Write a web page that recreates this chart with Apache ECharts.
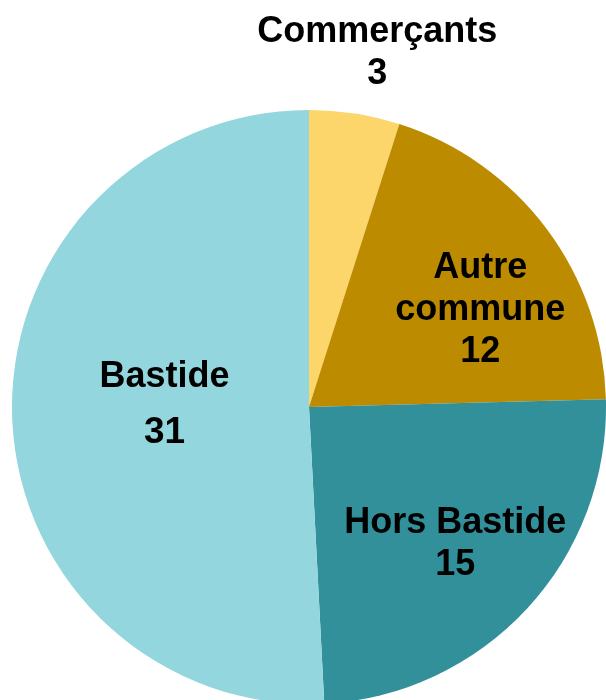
<!DOCTYPE html>
<head>
    <meta charset="utf-8">
    <script src="https://cdn.jsdelivr.net/npm/echarts@6/dist/echarts.min.js"></script>
    <title>Pie</title>
    <style>
        html, body { margin: 0; padding: 0; background: #fff; }
    </style>
</head>
<body>
    <div id="main" style="width:606px;height:700px;"></div>
    <script type="text/javascript">
        // data
        var categories = ['Commerçants', 'Autre commune', 'Hors Bastide', 'Bastide'];
        var values = [3, 12, 15, 31];
        var colors = ['#FCD56B', '#BD8B00', '#31909A', '#93D6DE'];

        // nudge of each label away from the default inside spot
        var labelShift = [[45, -204], [50, -6], [35, 34], [7, 1]];

        var myChart = echarts.init(document.getElementById('main'));

        var font = 'Liberation Sans, Arial, sans-serif';

        var option = {
            animation: false,
            series: [
                {
                    type: 'pie',
                    center: [309, 407],
                    radius: 297,
                    startAngle: 90,
                    clockwise: true,
                    emphasis: { disabled: true },
                    data: categories.map(function (c, i) {
                        return { name: c, value: values[i], itemStyle: { color: colors[i] } };
                    }),
                    label: {
                        show: true,
                        position: 'inside',
                        fontFamily: font,
                        fontWeight: 'bold',
                        fontSize: 36,
                        color: '#000',
                        formatter: function (p) {
                            var name = p.name === 'Autre commune' ? 'Autre\ncommune' : p.name;
                            var v = p.name === 'Bastide' ? 'vb' : 'v';
                            return name.split('\n').map(function (s) { return '{n|' + s + '}'; }).join('\n') +
                                '\n{' + v + '|' + p.value + '}';
                        },
                        rich: {
                            n: { fontFamily: font, fontWeight: 'bold', fontSize: 36, lineHeight: 42, color: '#000' },
                            v: { fontFamily: font, fontWeight: 'bold', fontSize: 36, lineHeight: 42, color: '#000' },
                            vb: { fontFamily: font, fontWeight: 'bold', fontSize: 37, lineHeight: 70, color: '#000' }
                        }
                    },
                    labelLine: { show: false },
                    labelLayout: function (params) {
                        var s = labelShift[params.dataIndex];
                        return { dx: s[0], dy: s[1] };
                    }
                }
            ]
        };

        myChart.setOption(option);
    </script>
</body>
